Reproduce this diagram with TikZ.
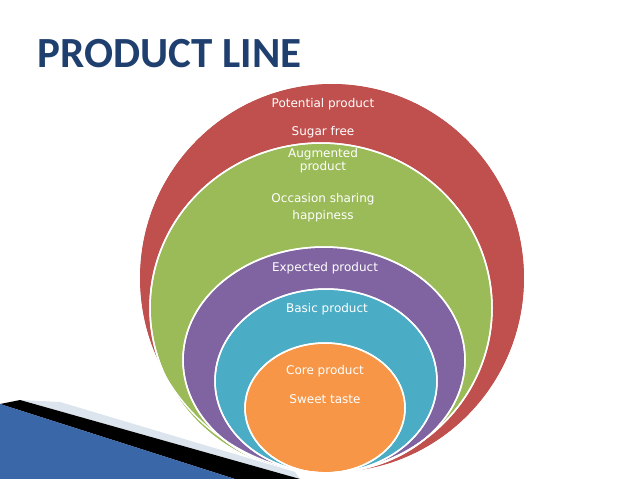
\documentclass[tikz,border=0pt]{standalone}
\usepackage{fontspec}
\setmainfont{DejaVu Sans}
\newfontfamily\titlefont{Carlito}
\definecolor{titleblue}{HTML}{1F3F6E}
\definecolor{ringred}{HTML}{C0504D}
\definecolor{ringgreen}{HTML}{9BBB59}
\definecolor{ringpurple}{HTML}{8064A2}
\definecolor{ringteal}{HTML}{4BACC6}
\definecolor{ringorange}{HTML}{F79646}
\definecolor{wedgeblue}{HTML}{3A67A8}
\definecolor{wedgelight}{HTML}{DCE4EE}
\tikzset{
  ring/.style={draw=white,line width=1.5pt},
  lbl/.style={text=white,font=\fontsize{12}{14}\selectfont,align=center}
}
\begin{document}
\begin{tikzpicture}[x=1pt,y=-1pt]
\useasboundingbox (0,0) rectangle (638,479);
\node [anchor=west,text=titleblue,font=\titlefont\bfseries\fontsize{43}{46}\selectfont] (T) at (34,54) {PRODUCT LINE};
% nested rings
\fill [ring,fill=ringred]    (332,278) ellipse [x radius=193,y radius=195];
\fill [ring,fill=ringgreen]  (321,308) ellipse [x radius=171,y radius=165];
\fill [ring,fill=ringpurple] (324,360) ellipse [x radius=141,y radius=113];
\fill [ring,fill=ringteal]   (326,381) ellipse [x radius=111,y radius=92];
\fill [ring,fill=ringorange] (325,408) ellipse [x radius=80,y radius=65];
\draw [ring] (332,278) ellipse [x radius=193,y radius=195];
\draw [ring] (321,308) ellipse [x radius=171,y radius=165];
\draw [ring] (324,360) ellipse [x radius=141,y radius=113];
\draw [ring] (326,381) ellipse [x radius=111,y radius=92];
\draw [ring] (325,408) ellipse [x radius=80,y radius=65];
% corner wedge
\fill [wedgelight] (60,402)--(295,472)--(300,479)--(20,400)--cycle;
\fill [black] (20,400)--(300,479)--(235,479)--(0,404)--cycle;
\fill [wedgeblue] (0,404)--(235,479)--(0,479)--cycle;
% labels
\node [lbl] (P1) at (323,104) {Potential product};
\node [lbl] (P2) at (323,132) {Sugar free};
\node [lbl] (A1) at (323,161) {Augmented\\[-1pt]product};
\node [lbl] (A2) at (323,208) {Occasion sharing\\[3pt]happiness};
\node [lbl] (E1) at (325,268) {Expected product};
\node [lbl] (B1) at (327,309) {Basic product};
\node [lbl] (C1) at (325,371) {Core product};
\node [lbl] (C2) at (325,399) {Sweet taste};
\end{tikzpicture}
\end{document}
